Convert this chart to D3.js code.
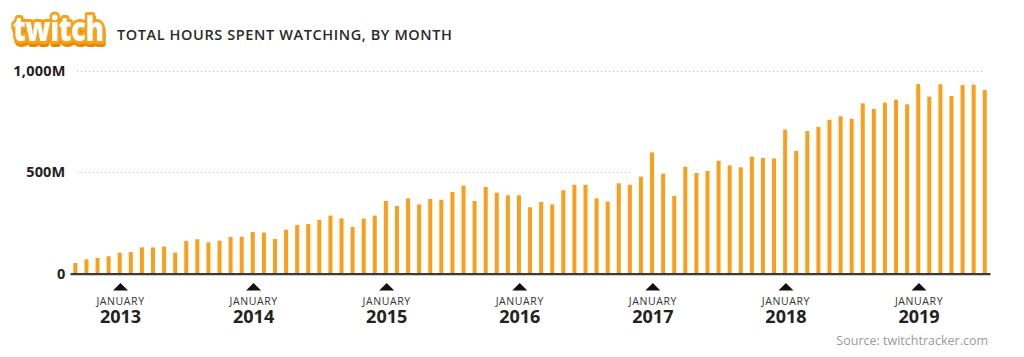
<!DOCTYPE html>
<html>
<head>
<meta charset="utf-8">
<script src="https://cdn.jsdelivr.net/npm/d3@7"></script>
<style>
  html, body { margin: 0; padding: 0; background: #fff; }
  svg { display: block; }
  text { font-family: "Open Sans", "DejaVu Sans", sans-serif; }
</style>
</head>
<body>
<svg id="chart" width="1024" height="357"></svg>
<script>
// ---- data ----
const months = []; // "YYYY-MM", Sep 2012 .. Jul 2019
(function () {
  const start = [2012, 9], end = [2019, 7];
  for (let y = start[0]; y <= end[0]; y++) {
    const m0 = y === start[0] ? start[1] : 1;
    const m1 = y === end[0] ? end[1] : 12;
    for (let m = m0; m <= m1; m++) months.push(y + "-" + String(m).padStart(2, "0"));
  }
})();
// total hours watched, millions
const hours = [
  51, 69, 76, 84,
  102, 105, 128, 128, 132, 102, 160, 168, 153, 161, 179, 181,
  204, 201, 169, 215, 238, 243, 263, 285, 271, 229, 270, 285,
  357, 332, 370, 340, 367, 363, 401, 433, 357, 426, 398, 385,
  385, 326, 352, 340, 410, 437, 437, 370, 354, 444, 437, 477,
  597, 492, 382, 526, 495, 505, 556, 533, 523, 576, 569, 567,
  709, 604, 702, 722, 758, 775, 763, 839, 811, 842, 857, 834,
  934, 872, 933, 875, 929, 931, 905
];
const yTicks = [0, 500, 1000];
const yTickLabels = ["0", "500M", "1,000M"];
const janLabels = ["2013", "2014", "2015", "2016", "2017", "2018", "2019"];

const title = "TOTAL HOURS SPENT WATCHING, BY MONTH";
const source = "Source: twitchtracker.com";

// ---- chart ----
const svg = d3.select("#chart");
const orange = "#fa9f1c";

const x = d3.scaleBand().domain(months).range([69.8, 990.3]).paddingInner(0.64).paddingOuter(0.32);
const y = d3.scaleLinear().domain([0, 1000]).range([273.3, 70.7]);

// gridlines (dotted)
const gridEnd = { 500: 632, 1000: 985 };
svg.append("g").selectAll("line")
  .data(yTicks.filter(d => d > 0))
  .join("line")
  .attr("x1", 77).attr("x2", d => gridEnd[d])
  .attr("y1", d => Math.round(y(d)) + 0.5).attr("y2", d => Math.round(y(d)) + 0.5)
  .attr("stroke", "#bdbdbd").attr("stroke-width", 1)
  .attr("stroke-dasharray", "1,3");

// y labels
svg.append("g").selectAll("text")
  .data(yTicks)
  .join("text")
  .attr("x", 65.5)
  .attr("y", d => y(d))
  .attr("dy", "0.36em")
  .attr("text-anchor", "end")
  .attr("font-size", 14.5)
  .attr("font-weight", 700)
  .attr("letter-spacing", 0.2)
  .attr("fill", "#222")
  .text((d, i) => yTickLabels[i]);

// bars
svg.append("g").selectAll("rect")
  .data(months)
  .join("rect")
  .attr("x", d => x(d))
  .attr("width", x.bandwidth())
  .attr("y", (d, i) => y(hours[i]))
  .attr("height", (d, i) => y(0) - y(hours[i]))
  .attr("fill", orange);

// baseline
svg.append("line")
  .attr("x1", 70.5).attr("x2", 990.5)
  .attr("y1", y(0) + 0.8).attr("y2", y(0) + 0.8)
  .attr("stroke", "#3a3a3a").attr("stroke-width", 2.4);

// january markers
const jans = months.filter(m => m.endsWith("-01"));
const gJ = svg.append("g").selectAll("g")
  .data(jans)
  .join("g")
  .attr("transform", d => `translate(${x(d) + x.bandwidth() / 2 + 0.8},0)`);
gJ.append("path")
  .attr("d", "M-7.5,290.5 L0,283 L7.5,290.5 Z")
  .attr("fill", "#111");
const jt = gJ.append("text")
  .attr("y", 304.5)
  .attr("text-anchor", "middle");
jt.append("tspan")
  .attr("x", 0)
  .attr("font-size", 10.5)
  .attr("letter-spacing", 0.6)
  .attr("fill", "#333")
  .text("JANUARY");
jt.append("tspan")
  .attr("x", 0).attr("dy", 18)
  .attr("font-size", 18)
  .attr("font-weight", 700)
  .attr("fill", "#222")
  .text((d, i) => janLabels[i]);

// source
svg.append("text")
  .attr("x", 988).attr("y", 345)
  .attr("text-anchor", "end")
  .attr("font-size", 12.5)
  .attr("fill", "#9a9a9a")
  .text(source);

// title, spread to the reference width
const t = svg.append("text")
  .attr("x", 117).attr("y", 39.5)
  .attr("font-size", 14.5)
  .attr("font-weight", 600)
  .attr("fill", "#2a2a2a")
  .text(title);
const tw = t.node().getComputedTextLength();
t.attr("letter-spacing", Math.max(0, (335 - tw) / (title.length - 1)));

// logo (single text, shadow via CSS filter)
svg.append("g").attr("transform", "translate(13,41) scale(0.84,1)")
  .append("text")
  .attr("font-family", "Lato, 'DejaVu Sans', sans-serif")
  .attr("font-weight", 900)
  .attr("font-size", 33)
  .attr("letter-spacing", -0.5)
  .attr("fill", "#fff").attr("stroke", "#f9a11b").attr("stroke-width", 6)
  .attr("stroke-linejoin", "round")
  .attr("paint-order", "stroke")
  .style("filter", "drop-shadow(1.5px 3.5px 0 #e58a00)")
  .text("twitch");
</script>
</body>
</html>
